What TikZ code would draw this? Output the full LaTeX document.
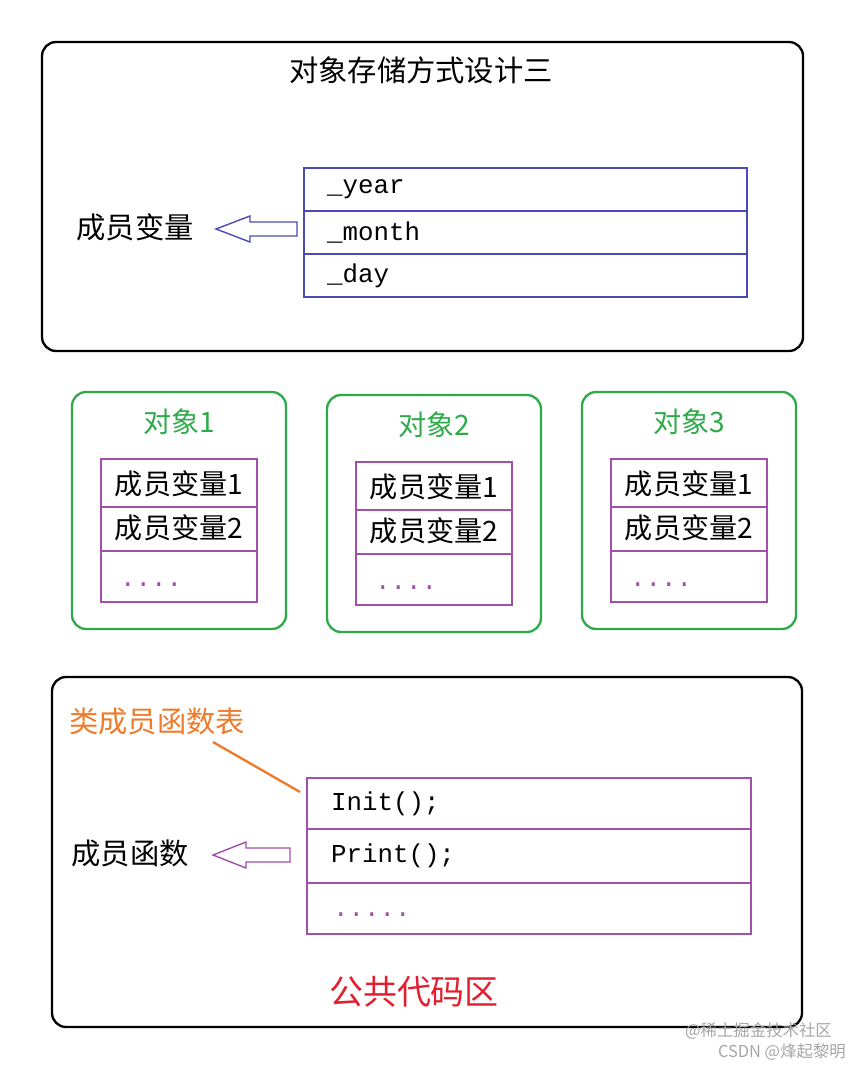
\documentclass[tikz,border=0pt]{standalone}
\usepackage{fontspec}
\setmainfont{Liberation Serif}
\newfontfamily\cjk{Noto Sans CJK SC}
\newfontfamily\mono{Liberation Mono}
\definecolor{tblue}{HTML}{4A4AB4}
\definecolor{tgreen}{HTML}{2EAA4A}
\definecolor{tpurple}{HTML}{A050A8}
\definecolor{torange}{HTML}{EE7A2A}
\definecolor{tred}{HTML}{E02030}
\begin{document}
\begin{tikzpicture}[x=0.03cm,y=-0.03cm,
  frame/.style={draw=black,line width=2pt,rounded corners=12},
  gframe/.style={draw=tgreen,line width=2pt,rounded corners=12},
  cell/.style={draw,line width=1.2pt},
  lbl/.style={font=\cjk\fontsize{25}{28}\selectfont,inner sep=0},
  sm/.style={font=\cjk\fontsize{24}{26}\selectfont,inner sep=0},
  code/.style={font=\mono\fontsize{22}{26}\selectfont,anchor=west,inner sep=0}]
\useasboundingbox (0,0) rectangle (864,1069);
% top
\draw[frame] (42,42) rectangle (803,351);
\node[lbl] (title) at (421,70) {对象存储方式设计三};
\foreach \a/\b/\t/\n in {168/211/\_year/y,211/254/\_month/m,254/297/\_day/d}{
  \draw[cell,tblue] (304,\a) rectangle (747,\b);
  \node[code] (\n) at (327,{(\a+\b)/2}) {\t};}
\draw[tblue,line width=1.2pt] (297,222)--(250,222)--(250,216)--(216,229)--(250,242)--(250,236)--(297,236)--cycle;
\node[lbl] (mv) at (135,227) {成员变量};
% objects
\foreach \x/\y/\k in {72/392/1,327/395/2,582/392/3}{
  \draw[gframe] (\x,\y) rectangle ({\x+214},{\y+237});
  \node[sm,text=tgreen] (o\k) at ({\x+107},{\y+30}) {对象\k};
  \draw[cell,tpurple] ({\x+29},{\y+67}) rectangle ({\x+185},{\y+115});
  \draw[cell,tpurple] ({\x+29},{\y+115}) rectangle ({\x+185},{\y+159});
  \draw[cell,tpurple] ({\x+29},{\y+159}) rectangle ({\x+185},{\y+210});
  \node[sm] (a\k) at ({\x+107},{\y+92}) {成员变量1};
  \node[sm] (b\k) at ({\x+107},{\y+136}) {成员变量2};
  \node[code,text=tpurple] (c\k) at ({\x+48},{\y+193}) {....};}
% bottom
\draw[frame] (52,677) rectangle (802,1027);
\node[lbl,text=torange] (tab) at (157,721) {类成员函数表};
\foreach \a/\b/\t/\n in {778/829/Init();/i,829/883/Print();/p,883/934/{}/e}{
  \draw[cell,tpurple] (307,\a) rectangle (751,\b);
  \node[code] (\n) at (331,{(\a+\b)/2}) {\t};}
\node[code,text=tpurple] (dots) at (333,915) {.....};
\draw[torange,line width=2pt] (213,742)--(300,792);
\draw[tpurple,line width=1.2pt] (290,848)--(246,848)--(246,842)--(213,855)--(246,868)--(246,862)--(290,862)--cycle;
\node[lbl] (mf) at (130,853) {成员函数};
\node[lbl,text=tred,font=\cjk\fontsize{29}{32}\selectfont] (pub) at (414,992) {公共代码区};
\node[font=\cjk\fontsize{14}{16}\selectfont,text=gray!70,anchor=east] (w1) at (836,1031) {@稀土掘金技术社区};
\node[font=\cjk\fontsize{14}{16}\selectfont,text=gray!70,anchor=east] (w2) at (850,1052) {CSDN @烽起黎明};
\end{tikzpicture}
\end{document}
